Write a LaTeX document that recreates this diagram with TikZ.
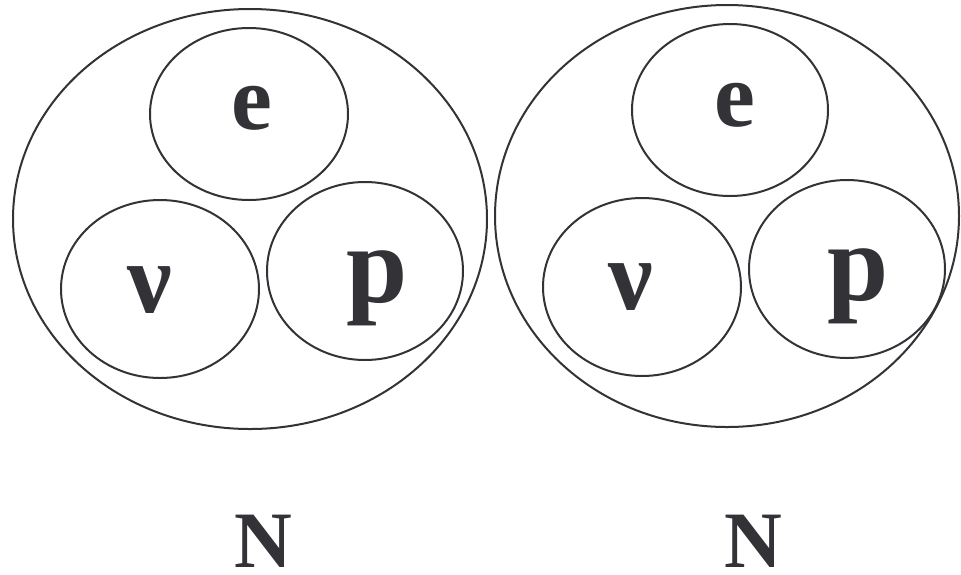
\documentclass[tikz,border=0pt]{standalone}
\usepackage{fontspec}
\setmainfont{Liberation Serif}
\begin{document}
\begin{tikzpicture}[x=1pt,y=-1pt,
  ring/.style={draw=ink,line width=2pt},
  lbl/.style={anchor=base,inner sep=0pt,text=ink,font=\bfseries}]
\definecolor{ink}{RGB}{50,50,55}
\useasboundingbox (0,0) rectangle (961,574);
% left atom
\draw[ring] (250,219) ellipse [x radius=237,y radius=210];
\draw[ring] (249,114) ellipse [x radius=99,y radius=86];
\draw[ring] (160,289) ellipse [x radius=99,y radius=89];
\draw[ring] (365,271) ellipse [x radius=98,y radius=89];
\node[lbl,font=\bfseries\fontsize{92}{92}\selectfont] (e1) at (252,129) {e};
\node[lbl,font=\bfseries\fontsize{100}{100}\selectfont] (n1) at (150,312) {ν};
\node[lbl,font=\bfseries\fontsize{110}{110}\selectfont] (p1) at (377,302) {p};
\node[lbl,font=\bfseries\fontsize{80}{80}\selectfont] (N1) at (263,567) {N};
% right atom
\draw[ring] (727,216) ellipse [x radius=232,y radius=211];
\draw[ring] (730,110) ellipse [x radius=98,y radius=86];
\draw[ring] (642,287) ellipse [x radius=99,y radius=89];
\draw[ring] (847,269) ellipse [x radius=98,y radius=89];
\node[lbl,font=\bfseries\fontsize{92}{92}\selectfont] (e2) at (735,126) {e};
\node[lbl,font=\bfseries\fontsize{100}{100}\selectfont] (n2) at (631,309) {ν};
\node[lbl,font=\bfseries\fontsize{110}{110}\selectfont] (p2) at (858,300) {p};
\node[lbl,font=\bfseries\fontsize{80}{80}\selectfont] (N2) at (753,567) {N};
\end{tikzpicture}
\end{document}
